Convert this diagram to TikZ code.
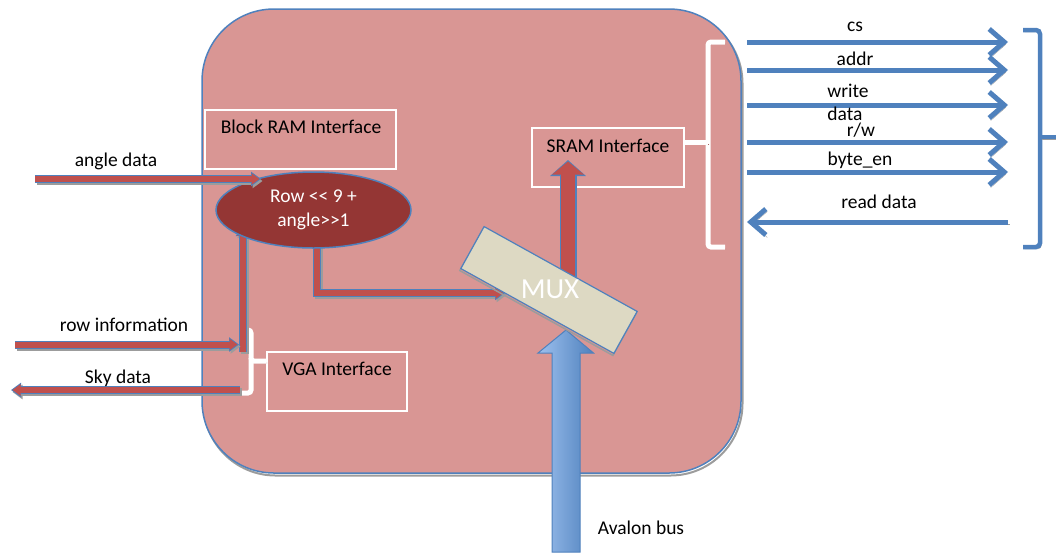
\documentclass[tikz,border=0pt]{standalone}
\usepackage{fontspec}
\setmainfont{Carlito}
\usetikzlibrary{arrows.meta,shapes.geometric}

\definecolor{panel}{HTML}{D99694}
\definecolor{edge}{HTML}{4F81BD}
\definecolor{redfill}{HTML}{C0504D}
\definecolor{darkred}{HTML}{943634}
\definecolor{muxfill}{HTML}{DDD9C3}
\definecolor{lightblue}{HTML}{9DC0EE}
\definecolor{shade}{HTML}{9C9C9C}
\definecolor{braceshadow}{HTML}{A3605E}

\tikzset{
  lbl/.style={anchor=base, inner sep=0pt, text=black},
  ifbox/.style={draw=white, line width=1.5pt, inner sep=0pt},
  redarrow/.style={draw=redfill, line width=6pt, shorten >=1.5pt,
    -{Triangle[length=8pt,width=11pt]},
    preaction={draw=shade, line width=8pt, shorten >=0pt,
      -{Triangle[length=10pt,width=14pt]},
      transform canvas={shift={(1.5pt,-2pt)}}},
    preaction={draw=edge, line width=8pt, shorten >=0pt,
      -{Triangle[length=10pt,width=14pt]}}},
  bigred/.style={draw=redfill, line width=14pt, shorten >=1.5pt,
    -{Triangle[length=13pt,width=31pt]},
    preaction={draw=edge, line width=17pt, shorten >=0pt,
      -{Triangle[length=16pt,width=35pt]}}},
  signal/.style={draw=edge, line width=5pt,
    -{Straight Barb[length=15pt,width=26pt]},
    preaction={draw=shade, transform canvas={shift={(1.5pt,-2.5pt)}}}},
  whitebrace/.style={draw=white, line width=5pt, rounded corners=3pt,
    preaction={draw=braceshadow, transform canvas={shift={(1pt,-2pt)}}}},
  bluebrace/.style={draw=edge, line width=4.5pt, rounded corners=4pt,
    preaction={draw=shade, transform canvas={shift={(1.5pt,-2pt)}}}},
}

\begin{document}
\begin{tikzpicture}[x=1pt, y=-1pt, font=\fontsize{19.5}{24}\selectfont]
\useasboundingbox (0,0) rectangle (1056,558);

% FPGA panel
\node[draw=edge, line width=1.5pt, fill=panel, rounded corners=72pt,
      minimum width=539, minimum height=464, inner sep=0pt,
      preaction={draw=shade, line width=2pt, transform canvas={shift={(1.5pt,-2.5pt)}}}]
      (panel) at (471.5,241) {};

% interface boxes
\node[ifbox, minimum width=191, minimum height=59] (bram) at (300.5,139.5) {};
\node[lbl] (bramtext) at (301,133) {Block RAM Interface};
\node[ifbox, minimum width=140, minimum height=59] (vga) at (337,381.5) {};
\node[lbl] (vgatext) at (337,375) {VGA Interface};
\node[ifbox, minimum width=152, minimum height=59] (sram) at (608,157.5) {};
\node[lbl] (sramtext) at (608,152) {SRAM Interface};

% braces
\draw[whitebrace] (246,330) -- (251,330) -- (251,361) -- (vga.west |- 0,361);
\draw[whitebrace] (251,358) -- (251,393) -- (240,393);
\draw[whitebrace] (725,42) -- (708,42) -- (708,247) -- (725,247);
\draw[whitebrace] (708,142) -- (sram.east |- 0,142);

% free ends of the red signals
\coordinate (angin) at (35,179);
\coordinate (rowin) at (15,344.5);
\coordinate (rowtip) at (239,344.5);
\coordinate (rowbar) at (243,352);
\coordinate (rowup) at (243,226);
\coordinate (skysrc) at (240,390);
\coordinate (skyout) at (11,390);
\coordinate (elbtop) at (317,245);
\coordinate (muxin) at (505,293);
\coordinate (muxout) at (568,282);
\coordinate (sramin) at (568,160);

% address calculation
\draw[redarrow] (rowbar) -- (rowup);
\draw[redarrow] (rowin) -- (rowtip);
\draw[redarrow] (skysrc) -- (skyout);
\draw[redarrow] (elbtop) |- (muxin);
\node[ellipse, draw=edge, line width=1.5pt, fill=darkred, text=white,
      minimum width=195, minimum height=76, inner sep=0pt, align=center]
      (rowcalc) at (313.5,210) {Row {<}{<} 9 +\\angle{>}{>}1};
\draw[redarrow] (angin) -- (angin -| rowcalc.148);

% MUX output to SRAM
\draw[bigred] (muxout) -- (sramin);

% Avalon bus
\coordinate (avbot) at (566,552);
\draw[edge, line width=1pt, left color=lightblue, right color=edge]
  (avbot) ++(-14,0) -- ++(0,-199) -- ++(-14,0) -- ++(28,-23)
  -- ++(27.5,23) -- ++(-13.5,0) -- ++(0,199) -- cycle;
\node[lbl] (avtext) at (641,534) {Avalon bus};

% MUX
\node[draw=edge, line width=1.2pt, fill=muxfill, rotate=-29,
      minimum width=175, minimum height=48, inner sep=0pt,
      preaction={draw=shade, line width=1.5pt, transform canvas={shift={(-1pt,-2pt)}}}]
      (mux) at (549,290) {};
\node[lbl, text=white, font=\fontsize{29}{30}\selectfont] (muxtext) at (550,298) {MUX};

% left labels
\node[lbl] at (116,166) {angle data};
\node[lbl] at (124,331) {row information};
\node[lbl] at (118,383) {Sky data};

% SRAM bus signals
\coordinate (csA) at (747,42);   \coordinate (csB) at (1008,42);
\coordinate (adA) at (747,70);   \coordinate (adB) at (1008,70);
\coordinate (wdA) at (747,105);  \coordinate (wdB) at (1008,105);
\coordinate (rwA) at (747,142);  \coordinate (rwB) at (1008,142);
\coordinate (beA) at (747,172);  \coordinate (beB) at (1008,172);
\coordinate (rdA) at (747,222);  \coordinate (rdB) at (1008,222);
\draw[signal] (csA) -- (csB);
\draw[signal] (adA) -- (adB);
\draw[signal] (wdA) -- (wdB);
\draw[signal] (rwA) -- (rwB);
\draw[signal] (beA) -- (beB);
\draw[signal] (rdB) -- (rdA);
\node[lbl] at (855,31) {cs};
\node[lbl] at (855,65) {addr};
\node[lbl] at (848,97) {write};
\node[lbl] at (845,120) {data};
\node[lbl] at (861,136) {r/w};
\node[lbl] at (860,165) {byte\_en};
\node[lbl] at (879,208) {read data};

% SRAM chip side
\draw[bluebrace] (1023,30) -- (1040,30) -- (1040,247) -- (1023,247);
\draw[bluebrace] (1040,137) -- (1058,137);
\end{tikzpicture}
\end{document}
